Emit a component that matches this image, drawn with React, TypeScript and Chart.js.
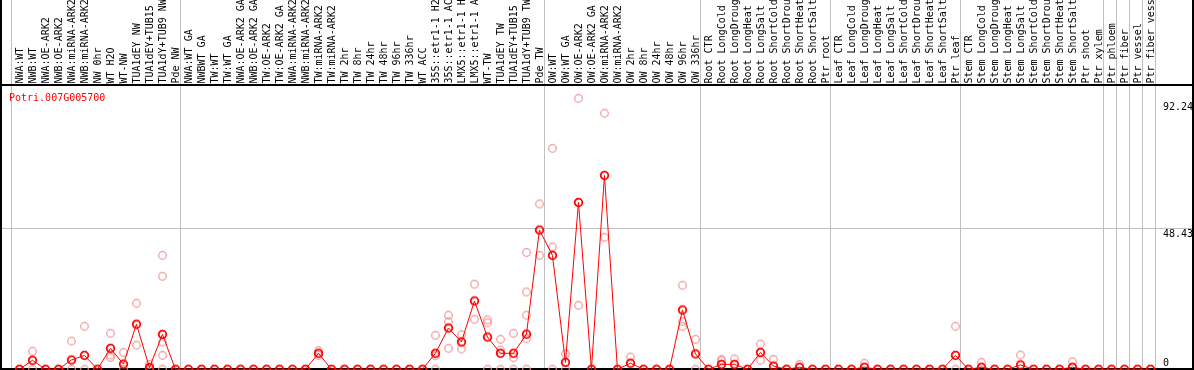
import { useEffect, useRef } from "react";
import { Chart, registerables } from "chart.js";

Chart.register(...registerables);

const geneId = "Potri.007G005700";

const categories: string[] = [
  "NWA:WT", "NWB:WT", "NWA:OE-ARK2", "NWB:OE-ARK2", "NWA:miRNA-ARK2", "NWB:miRNA-ARK2", "NW 0hr", "WT H2O", "WT-NW", "TUA1dEY NW", "TUA1dEY+TUB15 NW", "TUA1dY+TUB9 NW", "Pde NW",
  "NWA:WT GA", "NWBWT GA", "TW:WT", "TW:WT GA", "NWA:OE-ARK2 GA", "NWB:OE-ARK2 GA", "TW:OE-ARK2", "TW:OE-ARK2 GA", "NWA:miRNA-ARK2", "NWB:miRNA-ARK2", "TW:miRNA-ARK2", "TW:miRNA-ARK2", "TW 2hr", "TW 8hr", "TW 24hr", "TW 48hr", "TW 96hr", "TW 336hr", "WT ACC", "35S::etr1-1 H2O", "35S::etr1-1 ACC", "LMX5::etr1-1 H2O", "LMX5::etr1-1 ACC", "WT-TW", "TUA1dEY TW", "TUA1dEY+TUB15 TW", "TUA1dY+TUB9 TW", "Pde TW",
  "OW:WT", "OW:WT GA", "OW:OE-ARK2", "OW:OE-ARK2 GA", "OW:miRNA-ARK2", "OW:miRNA-ARK2", "OW 2hr", "OW 8hr", "OW 24hr", "OW 48hr", "OW 96hr", "OW 336hr",
  "Root CTR", "Root LongCold", "Root LongDrought", "Root LongHeat", "Root LongSalt", "Root ShortCold", "Root ShortDrought", "Root ShortHeat", "Root ShortSalt", "Ptr root",
  "Leaf CTR", "Leaf LongCold", "Leaf LongDrought", "Leaf LongHeat", "Leaf LongSalt", "Leaf ShortCold", "Leaf ShortDrought", "Leaf ShortHeat", "Leaf ShortSalt", "Ptr leaf",
  "Stem CTR", "Stem LongCold", "Stem LongDrought", "Stem LongHeat", "Stem LongSalt", "Stem ShortCold", "Stem ShortDrought", "Stem ShortHeat", "Stem ShortSalt", "Ptr shoot", "Ptr xylem",
  "Ptr phloem", "Ptr fiber", "Ptr vessel", "Ptr fiber vessel",
];

const meanValues: number[] = [
  0, 3.1, 0, 0, 3.2, 4.8, 0, 7.2, 1.8, 15.5, 0.6, 12.0, 0,
  0, 0, 0, 0, 0, 0, 0, 0, 0, 0, 5.5, 0, 0, 0, 0, 0, 0, 0, 0, 5.5, 14.2, 9.4, 23.5, 11.1, 5.5, 5.5, 12.1, 47.9,
  39.2, 2.4, 57.4, 0, 66.7, 0, 2.1, 0, 0, 0, 20.4, 5.3,
  0, 1.7, 1.7, 0, 5.8, 1.1, 0, 0.7, 0, 0,
  0, 0, 0.7, 0, 0, 0, 0, 0, 0, 4.8,
  0, 0.7, 0, 0, 1.5, 0, 0, 0, 0.7, 0, 0,
  0, 0, 0, 0,
];

const replicateValues: number[][] = [
  [], [6.2, 0], [], [], [9.7, 0], [14.8, 0], [], [12.4, 4.9, 4.1], [5.8, 0], [22.7, 8.3], [1.7, 0], [39.2, 32.0, 9.4, 4.8, 0], [],
  [], [], [], [], [], [], [], [], [], [], [6.4, 4.8], [], [], [], [], [], [], [], [], [11.7, 4.7, 0], [18.6, 16.4, 7.2], [11.9, 7.0], [29.3, 17.2], [17.0, 16.0, 0], [10.3, 6.6, 0], [12.4, 4.0, 0], [40.2, 26.6, 18.6, 10.5, 0], [56.9, 39.2],
  [76.0, 42.1, 0], [5.3, 0], [93.2, 22.0], [], [88.1, 45.4], [], [4.2], [], [], [], [28.9, 16.4, 14.7], [10.3, 0],
  [], [3.4, 2.9], [3.6], [], [8.7, 3.1], [3.4], [], [1.7], [], [],
  [], [], [2.1], [], [], [], [], [], [], [14.8, 0],
  [], [2.4], [], [], [4.9], [], [], [], [2.6], [], [],
  [], [], [], [],
];

const groupBoundaries: number[] = [0, 13, 41, 53, 63, 73, 84, 85, 86, 87, 88];
const yLabelValues: number[] = [0, 48.43, 92.24];
const yGridValues: number[] = [48.43];

const FONT = '10px "DejaVu Sans Mono", monospace';
const POINT_SHIFT = 0.65;

function makeMarker(color: string, width: number): HTMLCanvasElement {
  const c = document.createElement("canvas");
  c.width = 13;
  c.height = 13;
  const g = c.getContext("2d")!;
  g.strokeStyle = color;
  g.lineWidth = width;
  g.beginPath();
  g.arc(6.5, 6.5, 3.8, 0, Math.PI * 2);
  g.stroke();
  return c;
}

const decorPlugin = {
  id: "decor",
  beforeDraw(chart: any) {
    const { ctx, width, height } = chart;
    ctx.save();
    ctx.fillStyle = "#ffffff";
    ctx.fillRect(0, 0, width, height);
    ctx.restore();
  },
  beforeDatasetsDraw(chart: any) {
    const { ctx, chartArea, scales, width, height } = chart;
    const xs = scales.x;
    const ys = scales.y;
    ctx.save();
    ctx.strokeStyle = "#c0c0c0";
    ctx.lineWidth = 1;
    groupBoundaries.forEach((b) => {
      const px = Math.floor(xs.getPixelForValue(b)) + 0.5;
      ctx.beginPath();
      ctx.moveTo(px, 0);
      ctx.lineTo(px, chartArea.bottom);
      ctx.stroke();
    });
    yGridValues.forEach((v) => {
      const py = Math.floor(ys.getPixelForValue(v)) + 0.5;
      ctx.beginPath();
      ctx.moveTo(chartArea.left, py);
      ctx.lineTo(chartArea.right, py);
      ctx.stroke();
    });
    ctx.font = FONT;
    ctx.fillStyle = "#000000";
    ctx.textAlign = "left";
    ctx.textBaseline = "alphabetic";
    categories.forEach((label, i) => {
      const px = xs.getPixelForValue(i + POINT_SHIFT);
      ctx.save();
      ctx.translate(px + 4, 83.5);
      ctx.rotate(-Math.PI / 2);
      ctx.fillText(label, 0, 0);
      ctx.restore();
    });
    ctx.fillStyle = "#ff0000";
    ctx.fillText(geneId, 9, 100.5);
    ctx.fillStyle = "#000000";
    yLabelValues.forEach((v) => {
      const py = ys.getPixelForValue(v);
      ctx.textBaseline = "alphabetic";
      if (v === 0) {
        ctx.fillText(String(v), 1163, py - 3.5);
      } else {
        ctx.fillText(String(v), 1163, py + 8.5);
      }
    });
    ctx.fillStyle = "#000000";
    ctx.fillRect(0, 0, 2, height);
    ctx.fillRect(width - 2, 0, 2, height);
    ctx.fillRect(0, 84, width, 2);
    ctx.fillRect(0, height - 2, width, 2);
    ctx.restore();
  },
};

export default function App() {
  const ref = useRef<HTMLCanvasElement | null>(null);

  useEffect(() => {
    document.body.style.margin = "0";
    const canvas = ref.current;
    if (!canvas) return;
    const meanPoints = meanValues.map((v, i) => ({ x: i + POINT_SHIFT, y: v }));
    const repPoints: { x: number; y: number }[] = [];
    replicateValues.forEach((list, i) => {
      list.forEach((v) => repPoints.push({ x: i + POINT_SHIFT, y: v }));
    });
    const redMarker = makeMarker("#ff0000", 1.8);
    const pinkMarker = makeMarker("rgba(238,145,145,0.95)", 1.2);

    const chart = new Chart(canvas, {
      type: "line",
      data: {
        datasets: [
          {
            label: "mean",
            data: meanPoints,
            borderColor: "#ff0000",
            borderWidth: 1,
            pointStyle: redMarker as any,
            pointRadius: 4,
            tension: 0,
            clip: false as any,
          },
          {
            label: "replicates",
            data: repPoints,
            showLine: false,
            borderColor: "rgba(238,145,145,0.95)",
            pointStyle: pinkMarker as any,
            pointRadius: 4,
            clip: false as any,
          },
        ],
      },
      options: {
        animation: false,
        responsive: false,
        devicePixelRatio: 1,
        layout: { autoPadding: false, padding: { left: 2, right: 1, top: 85, bottom: 0.7 } },
        plugins: { legend: { display: false }, tooltip: { enabled: false } },
        events: [],
        scales: {
          x: { type: "linear", display: false, min: -9 / 13, max: 1182 / 13 },
          y: { type: "linear", display: false, min: 0, max: 97.8 },
        },
      },
      plugins: [decorPlugin],
    });
    return () => chart.destroy();
  }, []);

  return (
    <div style={{ position: "absolute", left: 0, top: 0, width: 1194, height: 370 }}>
      <canvas ref={ref} width={1194} height={370} style={{ display: "block" }} />
    </div>
  );
}
